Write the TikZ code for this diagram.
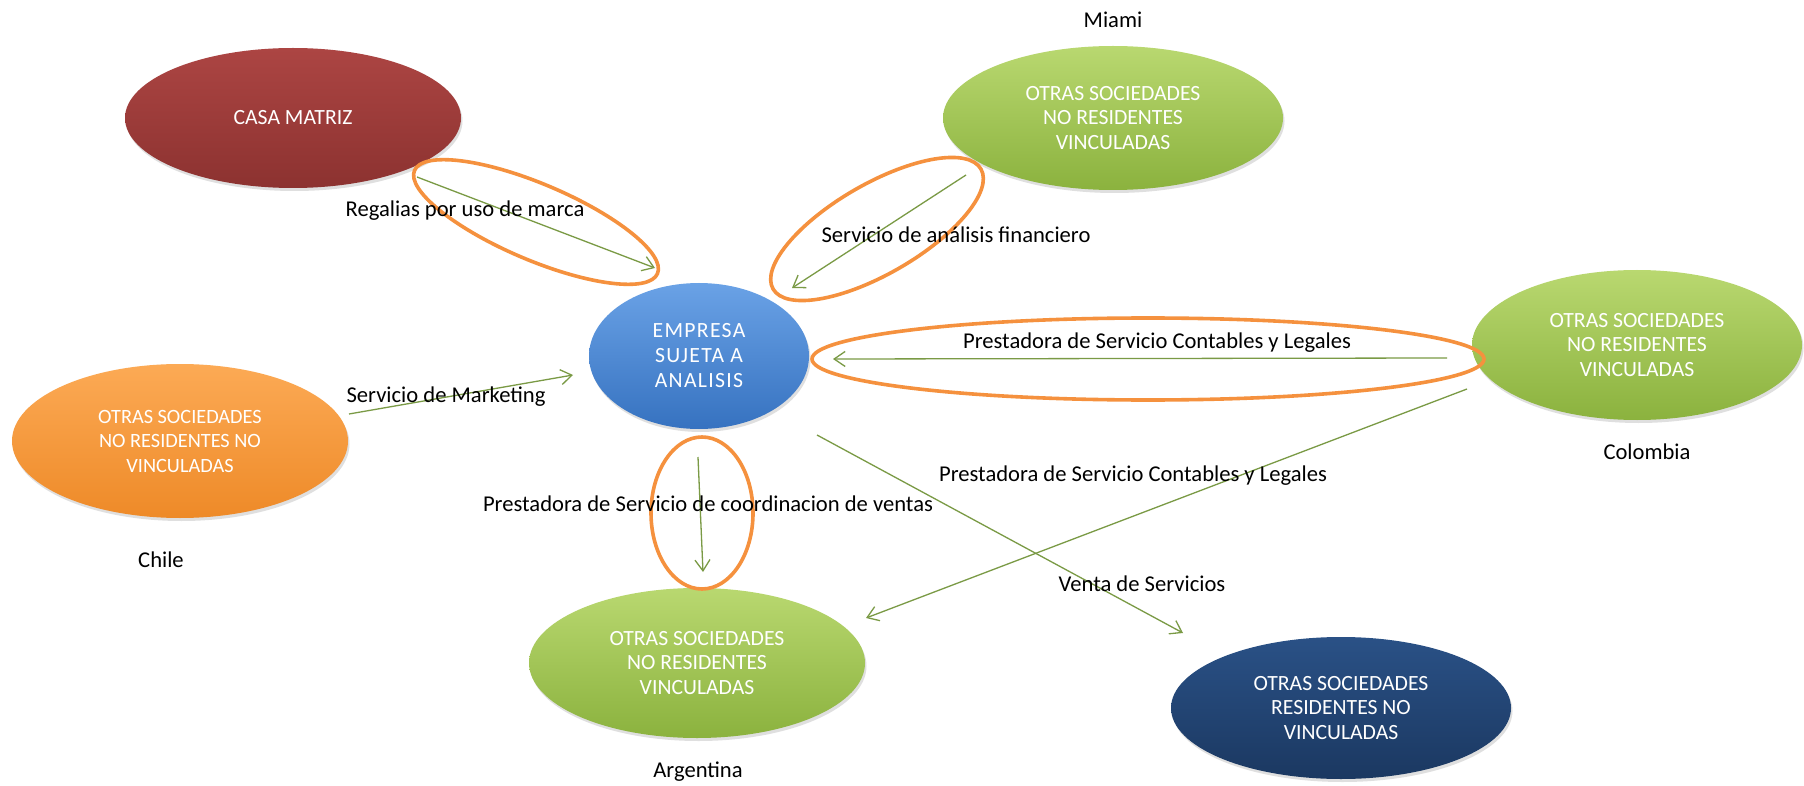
\documentclass[tikz,border=0pt]{standalone}
\usepackage{fontspec}
\setmainfont{Carlito}
\usetikzlibrary{shapes.geometric,arrows.meta,shadows}
\definecolor{conn}{HTML}{7A9A45}
\definecolor{hl}{HTML}{F5913E}
\definecolor{redT}{HTML}{AC4543}\definecolor{redB}{HTML}{8C3230}
\definecolor{grnT}{HTML}{B9D870}\definecolor{grnB}{HTML}{8BB23E}
\definecolor{bluT}{HTML}{6AA2E6}\definecolor{bluB}{HTML}{3672C0}
\definecolor{orT}{HTML}{FCAA55}\definecolor{orB}{HTML}{EE8A28}
\definecolor{dbT}{HTML}{2A5186}\definecolor{dbB}{HTML}{1B3861}
\tikzset{
  ent/.style={ellipse, inner sep=0pt, align=center, text=white,
    font=\fontsize{21.7}{24.5}\selectfont,
    drop shadow={shadow xshift=1.5pt, shadow yshift=-3pt, opacity=0.25}},
  lbl/.style={font=\fontsize{22.6}{26}\selectfont, text=black, inner sep=0pt},
  conarrow/.style={draw=conn, line width=1.3pt, -{Straight Barb[length=11pt,width=15pt,line width=1.3pt]}},
  hlring/.style={ellipse, draw=hl, line width=3.6pt, inner sep=0pt}
}
\begin{document}
\begin{tikzpicture}[x=1pt,y=-1pt]
\useasboundingbox (0,0) rectangle (1804,786);
\fill[white] (0,0) rectangle (1804,786);
% entities
\node[ent, top color=redT, bottom color=redB, minimum width=336pt, minimum height=140pt] (casa) at (293,118) {CASA MATRIZ};
\node[ent, top color=grnT, bottom color=grnB, minimum width=340pt, minimum height=144pt] (miami) at (1113,118) {OTRAS SOCIEDADES\\NO RESIDENTES\\VINCULADAS};
\node[ent, top color=bluT, bottom color=bluB, minimum width=220pt, minimum height=146pt,
  font=\fontsize{21.7}{25}\selectfont\addfontfeatures{LetterSpace=6}] (emp) at (699,356) {EMPRESA\\SUJETA A\\ANALISIS};
\node[ent, top color=orT, bottom color=orB, minimum width=336pt, minimum height=154pt,
  font=\fontsize{20.3}{24.5}\selectfont] (chile) at (180,441) {OTRAS SOCIEDADES\\NO RESIDENTES NO\\VINCULADAS};
\node[ent, top color=grnT, bottom color=grnB, minimum width=330pt, minimum height=150pt] (col) at (1637,345) {OTRAS SOCIEDADES\\NO RESIDENTES\\VINCULADAS};
\node[ent, top color=grnT, bottom color=grnB, minimum width=336pt, minimum height=150pt] (arg) at (697,663) {OTRAS SOCIEDADES\\NO RESIDENTES\\VINCULADAS};
\node[ent, top color=dbT, bottom color=dbB, minimum width=340pt, minimum height=142pt] (res) at (1341,708) {OTRAS SOCIEDADES\\RESIDENTES NO\\VINCULADAS};
% place labels
\node[lbl] (lmia) at (1113,20) {Miami};
\node[lbl] (lchi) at (161,560) {Chile};
\node[lbl] (lcol) at (1647,452) {Colombia};
\node[lbl] (larg) at (698,772) {Argentina};
% highlight rings
\node[hlring, minimum width=264pt, minimum height=76pt, rotate=-23] (h1) at (536,222) {};
\node[hlring, minimum width=240pt, minimum height=90pt, rotate=30] (h2) at (877,229) {};
\node[hlring, minimum width=672pt, minimum height=82pt] (h3) at (1148,359) {};
\node[hlring, minimum width=102pt, minimum height=152pt] (h4) at (702,513) {};
% connector end points
\coordinate (a1) at (417,177); \coordinate (b1) at (655,268);
\coordinate (a2) at (966,175); \coordinate (b2) at (792,288);
\coordinate (a3) at (1447,358); \coordinate (b3) at (833,359);
\coordinate (a4) at (349,414); \coordinate (b4) at (573,375);
\coordinate (a5) at (698,457); \coordinate (b5) at (703,572);
\coordinate (a6) at (1467,389); \coordinate (b6) at (866,618);
\coordinate (a7) at (817,435); \coordinate (b7) at (1183,633);
\draw[conarrow] (a1) -- (b1);
\draw[conarrow] (a2) -- (b2);
\draw[conarrow] (a3) -- (b3);
\draw[conarrow] (a4) -- (b4);
\draw[conarrow] (a5) -- (b5);
\draw[conarrow] (a6) -- (b6);
\draw[conarrow] (a7) -- (b7);
% connector labels
\node[lbl] (t1) at (465,211) {Regalias por uso de marca};
\node[lbl] (t2) at (956,235) {Servicio de análisis financiero};
\node[lbl] (t3) at (1157,343) {Prestadora de Servicio Contables y Legales};
\node[lbl] (t4) at (446,397) {Servicio de Marketing};
\node[lbl] (t5) at (708,504) {Prestadora de Servicio de coordinacion de ventas};
\node[lbl] (t6) at (1133,476) {Prestadora de Servicio Contables y Legales};
\node[lbl] (t7) at (1142,584) {Venta de Servicios};
\end{tikzpicture}
\end{document}
